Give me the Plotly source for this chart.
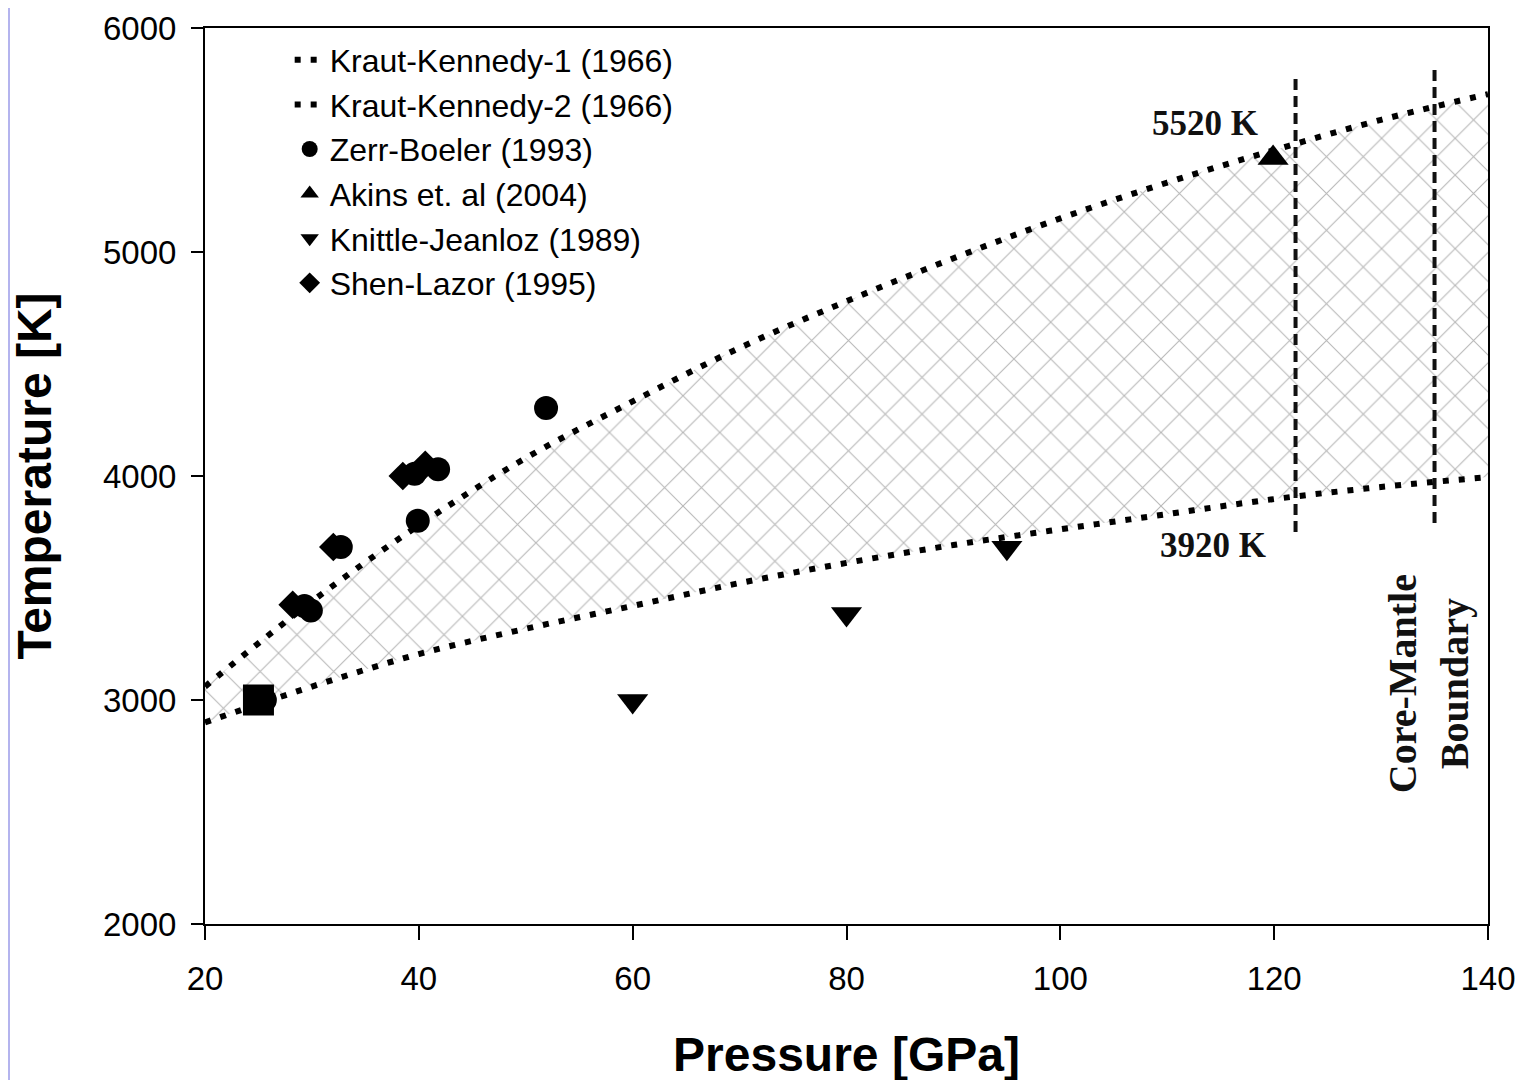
import plotly.graph_objects as go

# Kraut-Kennedy melting curves (pressure GPa, temperature K)
kk_p = [20, 30, 40, 50, 60, 70, 80, 90, 100, 110, 120, 130, 140]
kk1_t = [3060, 3440, 3780, 4080, 4333, 4572, 4780, 4972, 5150, 5310, 5455, 5590, 5705]
kk2_t = [2900, 3060, 3205, 3318, 3420, 3522, 3612, 3692, 3762, 3830, 3897, 3951, 3995]

zerr_p = [25.6, 29.3, 29.9, 32.7, 39.9, 39.6, 41.8, 51.9]
zerr_t = [3000, 3420, 3400, 3683, 3800, 4010, 4030, 4304]

akins_p = [119.9]
akins_t = [5420]

knittle_p = [60, 80, 95]
knittle_t = [2996, 3384, 3680]

shen_p = [28.2, 32.0, 38.5, 40.6]
shen_t = [3425, 3683, 4000, 4050]

square_p = [25.0]
square_t = [3000]

cmb_p = [122, 135]
cmb_lo = [3750, 3790]
cmb_hi = [5790, 5820]

x_ticks = [20, 40, 60, 80, 100, 120, 140]
y_ticks = [2000, 3000, 4000, 5000, 6000]

fig = go.Figure()

# cross-hatched band between the two curves
fig.add_trace(go.Scatter(x=kk_p, y=kk1_t, mode="lines", line=dict(width=0, shape="spline"),
                         showlegend=False, hoverinfo="skip"))
fig.add_trace(go.Scatter(x=kk_p, y=kk2_t, mode="lines", line=dict(width=0, shape="spline"),
                         fill="tonexty", fillcolor="rgba(0,0,0,0)",
                         fillpattern=dict(shape="x", fgcolor="#707070", bgcolor="rgba(0,0,0,0)",
                                          size=26, solidity=0.08),
                         showlegend=False, hoverinfo="skip"))

dot = dict(color="black", width=6, dash="6px,10px", shape="spline")
fig.add_trace(go.Scatter(x=kk_p, y=kk1_t, mode="lines", name="Kraut-Kennedy-1 (1966)", line=dot))
fig.add_trace(go.Scatter(x=kk_p, y=kk2_t, mode="lines", name="Kraut-Kennedy-2 (1966)", line=dot))

for p0, lo, hi in zip(cmb_p, cmb_lo, cmb_hi):
    fig.add_trace(go.Scatter(x=[p0, p0], y=[lo, hi], mode="lines", showlegend=False,
                             line=dict(color="#111", width=4, dash="11px,6px")))

fig.add_trace(go.Scatter(x=square_p, y=square_t, mode="markers", showlegend=False,
                         marker=dict(symbol="square", size=31, color="black")))
fig.add_trace(go.Scatter(x=zerr_p, y=zerr_t, mode="markers", name="Zerr-Boeler (1993)",
                         marker=dict(symbol="circle", size=24, color="black")))
fig.add_trace(go.Scatter(x=akins_p, y=akins_t, mode="markers", name="Akins et. al (2004)",
                         marker=dict(symbol="triangle-up", size=27, color="black")))
fig.add_trace(go.Scatter(x=knittle_p, y=knittle_t, mode="markers", name="Knittle-Jeanloz (1989)",
                         marker=dict(symbol="triangle-down", size=27, color="black")))
fig.add_trace(go.Scatter(x=shen_p, y=shen_t, mode="markers", name="Shen-Lazor (1995)",
                         marker=dict(symbol="diamond", size=22, color="black")))

serif = dict(family="Liberation Serif, Times New Roman, serif", color="#111")
fig.add_annotation(x=113.5, y=5575, text="<b>5520 K</b>", showarrow=False, font=dict(size=35, **serif))
fig.add_annotation(x=114.3, y=3690, text="<b>3920 K</b>", showarrow=False, font=dict(size=35, **serif))
fig.add_annotation(x=134.4, y=3071, text="<b>Core-Mantle<br>Boundary</b>", showarrow=False,
                   textangle=-90, font=dict(size=40, **serif))

# thin lavender edge on the left of the page
fig.add_shape(type="rect", xref="paper", yref="paper", x0=-197 / 1283, x1=-195 / 1283,
              y0=-164 / 896, y1=1 + 20 / 896, fillcolor="#b4b4ee", line_width=0, layer="above")

axis_font = dict(family="Liberation Sans, Arial, sans-serif", size=33, color="black")
fig.update_xaxes(range=[20, 140], tickvals=x_ticks, ticks="outside", ticklen=14, tickwidth=2,
                 tickcolor="black", showline=True, linewidth=2, linecolor="black", mirror=True,
                 showgrid=False, zeroline=False, tickfont=axis_font, ticklabelstandoff=10,
                 automargin=False, ticklabeloverflow="allow",
                 title=dict(text="<b>Pressure [GPa]</b>", standoff=42,
                            font=dict(family="Liberation Sans, Arial", size=48, color="black")))
fig.update_yaxes(range=[2000, 6000], tickvals=y_ticks, ticks="outside", ticklen=12, tickwidth=2,
                 tickcolor="black", showline=True, linewidth=2, linecolor="black", mirror=True,
                 showgrid=False, zeroline=False, tickfont=axis_font, ticklabelstandoff=8,
                 automargin=False, ticklabeloverflow="allow",
                 title=dict(text="<b>Temperature [K]</b>", standoff=38,
                            font=dict(family="Liberation Sans, Arial", size=48, color="black")))

fig.update_layout(
    width=1530,
    height=1080,
    margin=dict(l=197, r=50, t=20, b=164),
    paper_bgcolor="white",
    plot_bgcolor="white",
    showlegend=True,
    legend=dict(x=0.066, y=0.995, xanchor="left", yanchor="top", bgcolor="rgba(0,0,0,0)",
                traceorder="normal",
                font=dict(family="Liberation Sans, Arial, sans-serif", size=32, color="black"),
                tracegroupgap=0),
)

fig.write_html("out.html")
